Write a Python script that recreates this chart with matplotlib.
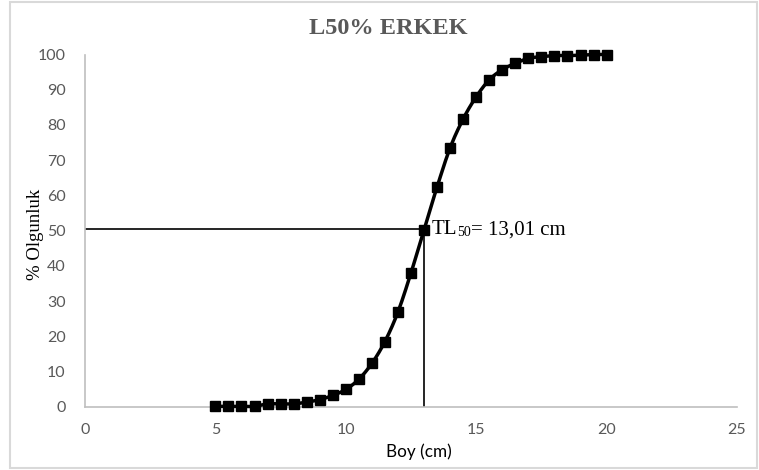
import numpy as np
import matplotlib
matplotlib.use("Agg")
import matplotlib.pyplot as plt
from matplotlib.patches import Rectangle

# Length classes (cm) and percentage of mature males
boy_cm = [5, 5.5, 6, 6.5, 7, 7.5, 8, 8.5, 9, 9.5, 10, 10.5, 11, 11.5, 12, 12.5,
          13, 13.5, 14, 14.5, 15, 15.5, 16, 16.5, 17, 17.5, 18, 18.5, 19, 19.5, 20]
olgunluk = [0.1, 0.1, 0.1, 0.1, 0.8, 0.8, 0.8, 1.3, 2.0, 3.2, 4.9, 7.8, 12.3, 18.5,
            26.9, 38.0, 50.2, 62.4, 73.5, 81.7, 88.0, 92.8, 95.7, 97.5, 98.9,
            99.4, 99.7, 99.7, 99.8, 100.0, 100.0]
tl50 = 13.01
tl50_y = 50.5
x_ticks = [0, 5, 10, 15, 20, 25]
y_ticks = [0, 10, 20, 30, 40, 50, 60, 70, 80, 90, 100]


def catmull_rom(x, y, n=20):
    """Smooth curve through the points (Catmull-Rom spline)."""
    x = np.asarray(x, float)
    y = np.asarray(y, float)
    px = np.concatenate([[2 * x[0] - x[1]], x, [2 * x[-1] - x[-2]]])
    py = np.concatenate([[2 * y[0] - y[1]], y, [2 * y[-1] - y[-2]]])
    t = np.linspace(0, 1, n, endpoint=False)
    xs, ys = [], []
    for i in range(1, len(px) - 2):
        for arr, out in ((px, xs), (py, ys)):
            p0, p1, p2, p3 = arr[i - 1], arr[i], arr[i + 1], arr[i + 2]
            out.append(0.5 * ((2 * p1) + (-p0 + p2) * t
                              + (2 * p0 - 5 * p1 + 4 * p2 - p3) * t ** 2
                              + (-p0 + 3 * p1 - 3 * p2 + p3) * t ** 3))
    xs.append(np.array([x[-1]]))
    ys.append(np.array([y[-1]]))
    return np.concatenate(xs), np.concatenate(ys)


fig = plt.figure(figsize=(7.59, 4.70), dpi=100)
fig.patch.set_facecolor("white")
fig.patches.append(Rectangle((10 / 759, 2 / 470), 747 / 759, 466 / 470,
                             transform=fig.transFigure, fill=False,
                             edgecolor="#d9d9d9", linewidth=1.5))

ax = fig.add_axes([85 / 759, (470 - 406.7) / 470, 652 / 759, 352.2 / 470])

sx, sy = catmull_rom(boy_cm, olgunluk)
ax.plot(sx, sy, color="black", linewidth=2.5, zorder=3, clip_on=False)
ax.plot(boy_cm, olgunluk, linestyle="none", marker="s", markersize=7,
        color="black", zorder=4, clip_on=False)

# TL50 guide lines
ax.plot([0, tl50], [tl50_y, tl50_y], color="black", linewidth=1.2, zorder=2)
ax.plot([tl50, tl50], [0, tl50_y], color="black", linewidth=1.2, zorder=2)

# "TL50= 13,01 cm" label with a subscript, built from chained texts
serif = "Liberation Serif"
t_main = ax.text(tl50 + 0.3, tl50_y - 0.3, "TL", fontfamily=serif,
                 fontsize=15, va="center", ha="left", color="black")
t_sub = ax.annotate("50", xy=(0.98, 0.0), xycoords=t_main, fontfamily=serif,
                    fontsize=10, va="bottom", ha="left", color="black")
ax.annotate("= 13,01 cm", xy=(1.0, 0.5), xycoords=(t_sub, t_main),
            fontfamily=serif, fontsize=15, va="center", ha="left",
            color="black")

ax.set_xlim(0, 25)
ax.set_ylim(0, 100)
ax.set_xticks(x_ticks)
ax.set_yticks(y_ticks)
ax.tick_params(axis="both", length=0, labelsize=11.5, labelcolor="#595959")
ax.tick_params(axis="x", pad=12)
ax.tick_params(axis="y", pad=14)
for lab in ax.get_xticklabels() + ax.get_yticklabels():
    lab.set_fontfamily("Lato")

for side in ("top", "right"):
    ax.spines[side].set_visible(False)
for side in ("left", "bottom"):
    ax.spines[side].set_color("#bfbfbf")
    ax.spines[side].set_linewidth(1.2)

fig.text(388 / 759, 1 - 29 / 470, "L50% ERKEK", ha="center", va="center",
         fontfamily=serif, fontweight="bold", fontsize=17.5,
         color="#595959")
fig.text(35 / 759, 1 - 234 / 470, "% Olgunluk", rotation=90, ha="center",
         va="center", fontfamily=serif, fontsize=13.5, color="black")
fig.text(419 / 759, 1 - 452 / 470, "Boy (cm)", ha="center", va="center",
         fontfamily="Lato", fontsize=12.3, color="black")

fig.savefig("out.png", dpi=100, facecolor="white")
